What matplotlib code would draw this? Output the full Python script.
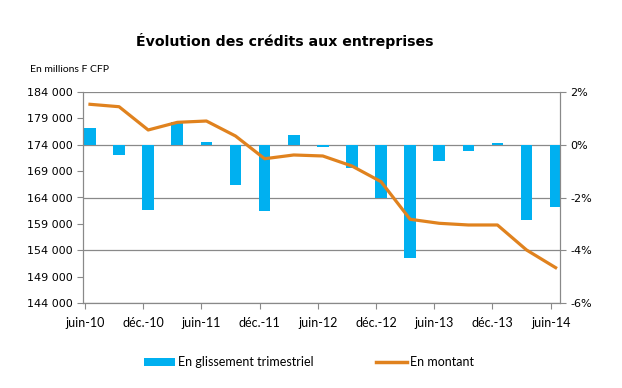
import numpy as np
import matplotlib.pyplot as plt
from matplotlib.patches import Patch
from matplotlib.lines import Line2D

# Data (quarterly, juin-10 to juin-14)
quarters = ["juin-10", "sept.-10", "déc.-10", "mars-11", "juin-11", "sept.-11",
            "déc.-11", "mars-12", "juin-12", "sept.-12", "déc.-12", "mars-13",
            "juin-13", "sept.-13", "déc.-13", "mars-14", "juin-14"]
glissement = [0.65, -0.38, -2.47, 0.85, 0.10, -1.52, -2.52, 0.37, -0.10,
              -0.88, -2.02, -4.30, -0.60, -0.25, 0.06, -2.84, -2.35]
montant = [181670, 181210, 176800, 178250, 178500, 175660, 171350, 172060, 171870,
           169970, 167000, 159870, 159110, 158790, 158790, 154050, 150700]
tick_labels = quarters[::2]

blue = "#00B0F0"
orange = "#E0821E"
grid_col = "#898989"

fig = plt.figure(figsize=(6.22, 3.88), dpi=100)
ax = fig.add_axes([83 / 622, 1 - 303 / 388, (560 - 83) / 622, (303 - 92) / 388])
ax2 = ax.twinx()

x = np.arange(len(quarters))

# bars on the right axis (%), line on the left axis
ax2.bar(x, glissement, width=0.4, color=blue, zorder=2)
ax.plot(x, montant, color=orange, lw=2.3, zorder=3, solid_joinstyle="round")

ax.set_zorder(ax2.get_zorder() + 1)
ax.patch.set_visible(False)

ax.set_xlim(-0.24, 16.15)
ax.set_ylim(144000, 184000)
ax.set_yticks(np.arange(144000, 184001, 5000))
ax.set_yticklabels([f"{v:,}".replace(",", " ") for v in range(144000, 184001, 5000)])
ax2.set_ylim(-6, 2)
ax2.set_yticks([-6, -4, -2, 0, 2])
ax2.set_yticklabels([f"{v}%" for v in [-6, -4, -2, 0, 2]])
ax2.yaxis.grid(True, color=grid_col, lw=0.9, zorder=0)
ax2.set_axisbelow(True)

ticks = np.arange(0, len(quarters), 2) - 0.17
ax.set_xticks(ticks)
ax.set_xticklabels(tick_labels, fontfamily="Lato", fontsize=9)

for a in (ax, ax2):
    for s in a.spines.values():
        s.set_color(grid_col)
    a.spines["top"].set_visible(False)
    a.tick_params(colors=grid_col, labelcolor="black", length=4, direction="out")
ax.tick_params(axis="y", labelsize=8)
ax2.tick_params(axis="y", labelsize=8)
ax.tick_params(axis="x", pad=6)

fig.text(285 / 622, 1 - 41 / 388, "Évolution des crédits aux entreprises",
         ha="center", va="center", fontsize=10.2, fontweight="bold")
fig.text(30 / 622, 1 - 69 / 388, "En millions F CFP", ha="left", va="center",
         fontfamily="Lato", fontsize=7.5)

handles = [Patch(facecolor=blue, edgecolor="none"),
           Line2D([0], [0], color=orange, lw=2.5)]
fig.legend(handles, ["En glissement trimestriel", "En montant"],
           loc="center", bbox_to_anchor=(309 / 622, 1 - 362 / 388), ncol=2,
           frameon=False, prop={"family": "Lato", "size": 9},
           handlelength=2.5, handleheight=0.6, handletextpad=0.2, columnspacing=5.0)

fig.savefig("out.png", dpi=100)
